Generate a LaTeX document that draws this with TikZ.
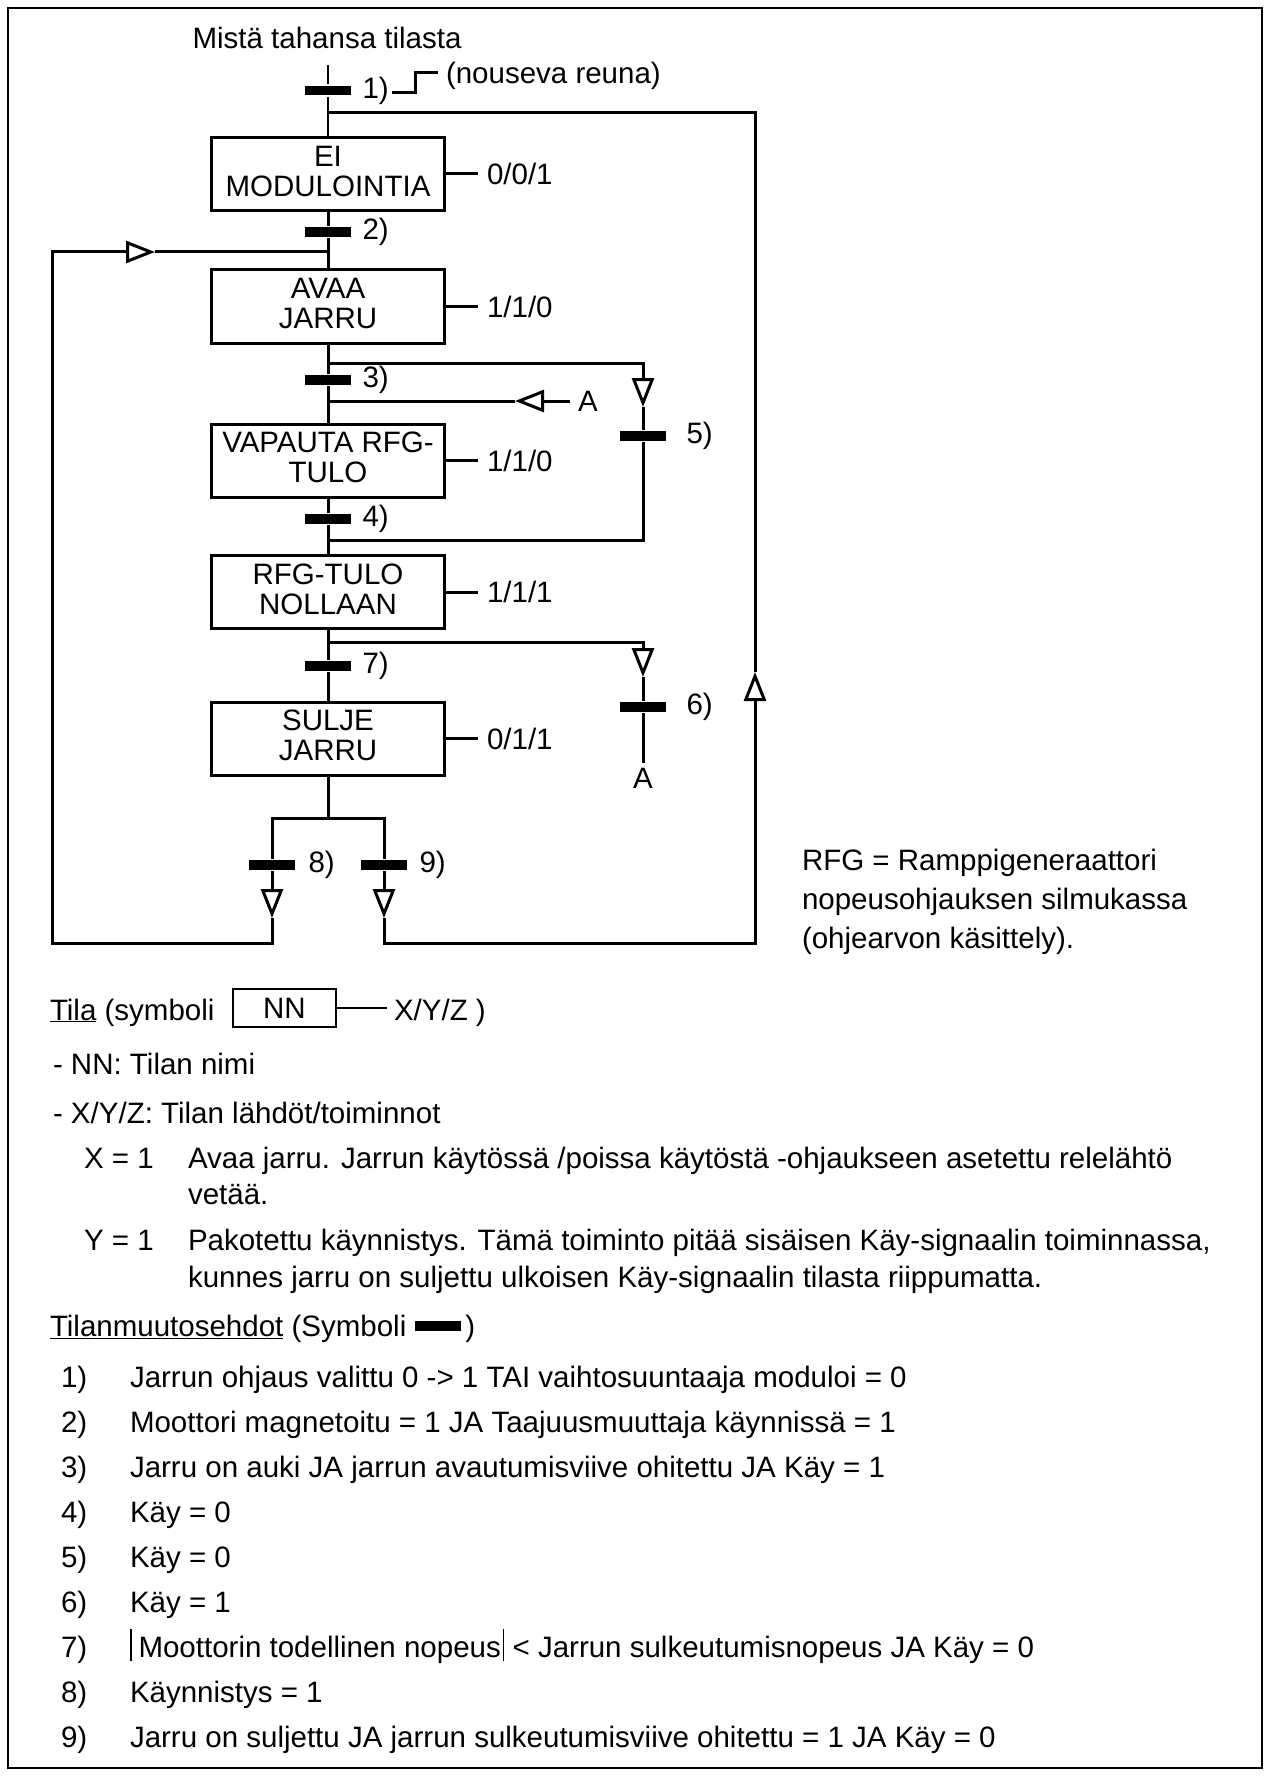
\documentclass[tikz,border=0pt]{standalone}
\usepackage{fontspec}
\setmainfont{Liberation Sans}
\usetikzlibrary{arrows.meta,positioning}

\begin{document}
\begin{tikzpicture}[x=1pt,y=-1pt,
	font=\fontsize{29.5pt}{30pt}\selectfont,
	line width=3pt,
	tila/.style={draw,rectangle,align=center,minimum width=233pt,minimum height=73pt,inner xsep=1pt,inner ysep=0pt,text depth=6pt},
	siirto/.style={fill=black,inner sep=0pt,minimum width=46pt,minimum height=9.5pt},
	lahto/.style={inner xsep=9pt,inner ysep=0pt,outer sep=0pt,anchor=west},
	merkki/.style={inner sep=0pt,outer sep=0pt},
	teksti/.style={inner sep=0pt,outer sep=0pt,anchor=base west},
	nuoli/.style={-{Triangle[open,length=29pt,width=22pt]}}]
		\useasboundingbox (0,0) rectangle (1270,1776);
		\draw[line width=1.7pt] (8,8) rectangle (1262,1768);
		%
		\node[tila] (eimod) at (328,174) {EI\\MODULOINTIA};
		\node[tila] (avaa) at (328,306.5) {AVAA\\JARRU};
		\node[tila] (vapauta) at (328,460.5) {VAPAUTA RFG-\\TULO};
		\node[tila] (nollaa) at (328,592) {RFG-TULO\\NOLLAAN};
		\node[tila] (sulje) at (328,738.5) {SULJE\\JARRU};
		%
		\node[lahto, right=32pt of eimod] (u1) {0/0/1};
		\node[lahto, right=32pt of avaa] (u2) {1/1/0};
		\node[lahto, right=32pt of vapauta] (u3) {1/1/0};
		\node[lahto, right=32pt of nollaa] (u4) {1/1/1};
		\node[lahto, right=32pt of sulje] (u5) {0/1/1};
		\draw (eimod) -- (u1);
		\draw (avaa) -- (u2);
		\draw (vapauta) -- (u3);
		\draw (nollaa) -- (u4);
		\draw (sulje) -- (u5);
		%
		\node[siirto] (t1) at (328,90.5) {};
		\node[siirto] (t2) at (328,232) {};
		\node[siirto] (t3) at (328,380) {};
		\node[siirto] (t4) at (328,519) {};
		\node[siirto] (t5) at (643,436) {};
		\node[siirto] (t6) at (643,707) {};
		\node[siirto] (t7) at (328,666) {};
		\node[siirto] (t8) at (272,865) {};
		\node[siirto] (t9) at (384,865) {};
		\node[merkki, right=10pt of t1] (l1) {1)};
		\node[merkki, right=10pt of t2] (l2) {2)};
		\node[merkki, right=10pt of t3] (l3) {3)};
		\node[merkki, right=10pt of t4] (l4) {4)};
		\node[merkki, right=19pt of t5] (l5) {5)};
		\node[merkki, right=19pt of t6] (l6) {6)};
		\node[merkki, right=10pt of t7] (l7) {7)};
		\node[merkki, right=12pt of t8] (l8) {8)};
		\node[merkki, right=11pt of t9] (l9) {9)};
		%
		\node[merkki] (otsikko) at (327,38) {Mistä tahansa tilasta};
		\draw (392,93) -- (415,93) -- (415,73) -- (438,73);
		\node[merkki, anchor=west] (reuna) at (446,76) {(nouseva reuna)};
		%
		\coordinate (alku) at (328,65);
		\coordinate (j0) at (328,113);
		\coordinate (j1) at (328,252);
		\coordinate (j2) at (328,363);
		\coordinate (j3) at (328,401);
		\coordinate (j4) at (328,540);
		\coordinate (j5) at (328,642);
		\coordinate (j6) at (328,818);
		\draw[line width=2.4pt] (alku) -- (t1) -- (eimod);
		\draw (eimod) -- (t2) -- (j1) -- (avaa) -- (j2) -- (t3) -- (j3) -- (vapauta)
			-- (t4) -- (j4) -- (nollaa) -- (j5) -- (t7) -- (sulje) -- (j6);
		\draw (t8) |- (j6) -| (t9);
		%
		\coordinate (n3) at (515,401);
		\coordinate (n5) at (643,407);
		\coordinate (n6) at (643,677);
		\node[merkki, inner xsep=8pt] (a1) at (588,401) {A};
		\node[merkki, inner ysep=5pt, anchor=north] (a2) at (643,763) {A};
		\draw[nuoli] (a1) -- (n3);
		\draw (n3) -- (j3);
		\draw[nuoli] (j2) -| (n5);
		\draw (n5) -- (t5) |- (j4);
		\draw[nuoli] (j5) -| (n6);
		\draw (n6) -- (t6) -- (a2);
		%
		\coordinate (v8) at (272,918);
		\coordinate (v9) at (384,918);
		\coordinate (vasen) at (52,943);
		\coordinate (oikea) at (755,943);
		\coordinate (nuoliV) at (155,252);
		\coordinate (nuoliO) at (755,672);
		\draw[nuoli] (t8) -- (v8);
		\draw[nuoli] (t9) -- (v9);
		\draw[nuoli] (v8) |- (vasen) |- (nuoliV);
		\draw (nuoliV) -- (j1);
		\draw[nuoli] (v9) |- (oikea) -- (nuoliO);
		\draw (nuoliO) |- (j0);
		%
		\node[teksti] (rfg1) at (802,870) {RFG = Ramppigeneraattori};
		\node[teksti] (rfg2) at (802,909) {nopeusohjauksen silmukassa};
		\node[teksti] (rfg3) at (802,948) {(ohjearvon käsittely).};
		%
		\node[teksti] (tila) at (50,1020) {\underline{Tila} (symboli};
		\node[draw, line width=1.8pt, minimum width=103pt, minimum height=38pt, inner sep=0pt] (nn) at (284.5,1008) {NN};
		\node[teksti, inner xsep=7pt] (xyz) at (387,1020) {X/Y/Z )};
		\draw[line width=1.6pt] (nn) -- (nn -| xyz.west);
		\node[teksti] (nimi) at (53,1074) {- NN: Tilan nimi};
		\node[teksti] (lahdot) at (53,1123) {- X/Y/Z: Tilan lähdöt/toiminnot};
		\node[teksti] (x1) at (84,1168) {X = 1};
		\node[teksti] (x1a) at (188,1168) {Avaa jarru. Jarrun käytössä /poissa käytöstä -ohjaukseen asetettu relelähtö};
		\node[teksti] (x1b) at (188,1204) {vetää.};
		\node[teksti] (y1) at (84,1250) {Y = 1};
		\node[teksti] (y1a) at (188,1250) {Pakotettu käynnistys. Tämä toiminto pitää sisäisen Käy-signaalin toiminnassa,};
		\node[teksti] (y1b) at (188,1287) {kunnes jarru on suljettu ulkoisen Käy-signaalin tilasta riippumatta.};
		%
		\node[teksti] (ehdot) at (50,1336) {\underline{Tilanmuutosehdot} (Symboli};
		\node[siirto, anchor=west] (ehtobar) at ([xshift=7pt,yshift=10pt]ehdot.base east) {};
		\node[teksti, xshift=3pt] (ehdotloppu) at (ehtobar.east |- ehdot.base) {)};
		\node[teksti] (e1) at (61,1387) {1)};
		\node[teksti] (e1t) at (130,1387) {Jarrun ohjaus valittu 0 -> 1 TAI vaihtosuuntaaja moduloi = 0};
		\node[teksti] (e2) at (61,1432) {2)};
		\node[teksti] (e2t) at (130,1432) {Moottori magnetoitu = 1 JA Taajuusmuuttaja käynnissä = 1};
		\node[teksti] (e3) at (61,1477) {3)};
		\node[teksti] (e3t) at (130,1477) {Jarru on auki JA jarrun avautumisviive ohitettu JA Käy = 1};
		\node[teksti] (e4) at (61,1522) {4)};
		\node[teksti] (e4t) at (130,1522) {Käy = 0};
		\node[teksti] (e5) at (61,1567) {5)};
		\node[teksti] (e5t) at (130,1567) {Käy = 0};
		\node[teksti] (e6) at (61,1612) {6)};
		\node[teksti] (e6t) at (130,1612) {Käy = 1};
		\node[teksti] (e7) at (61,1657) {7)};
		\node[teksti] (e7t) at (130,1657) {\rule[-4pt]{1.5pt}{32pt}\hspace{7pt}Moottorin todellinen nopeus\hspace{2pt}\rule[-4pt]{1.5pt}{32pt} < Jarrun sulkeutumisnopeus JA Käy = 0};
		\node[teksti] (e8) at (61,1702) {8)};
		\node[teksti] (e8t) at (130,1702) {Käynnistys = 1};
		\node[teksti] (e9) at (61,1747) {9)};
		\node[teksti] (e9t) at (130,1747) {Jarru on suljettu JA jarrun sulkeutumisviive ohitettu = 1 JA Käy = 0};
\end{tikzpicture}
\end{document}
